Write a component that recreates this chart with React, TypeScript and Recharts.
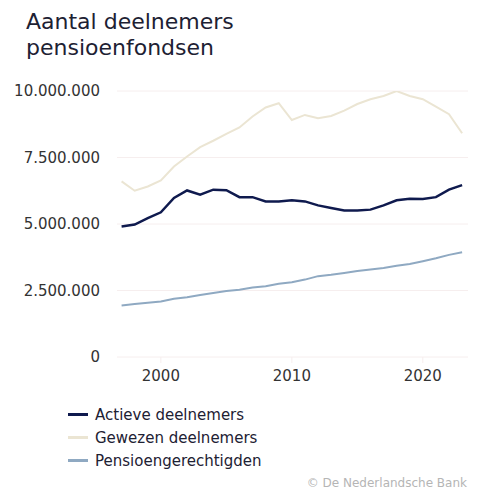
import { CartesianGrid, Line, LineChart, XAxis, YAxis } from 'recharts'

const YEARS = [
  1997, 1998, 1999, 2000, 2001, 2002, 2003, 2004, 2005, 2006, 2007, 2008, 2009,
  2010, 2011, 2012, 2013, 2014, 2015, 2016, 2017, 2018, 2019, 2020, 2021, 2022, 2023,
]

const ACTIEVE = [
  4.91, 4.98, 5.22, 5.44, 5.98, 6.26, 6.1, 6.29, 6.27, 6.01, 6.01, 5.85, 5.85,
  5.89, 5.85, 5.7, 5.6, 5.51, 5.51, 5.54, 5.7, 5.89, 5.95, 5.94, 6.01, 6.29, 6.46,
]

const GEWEZEN = [
  6.6, 6.25, 6.41, 6.64, 7.16, 7.54, 7.89, 8.13, 8.39, 8.63, 9.04, 9.38, 9.54,
  8.91, 9.1, 8.98, 9.06, 9.26, 9.51, 9.69, 9.81, 10.0, 9.81, 9.69, 9.41, 9.13, 8.41,
]

const PENSIOEN = [
  1.94, 1.99, 2.04, 2.09, 2.19, 2.25, 2.33, 2.41, 2.48, 2.53, 2.61, 2.66, 2.75,
  2.81, 2.91, 3.04, 3.09, 3.16, 3.23, 3.29, 3.35, 3.43, 3.5, 3.6, 3.71, 3.84, 3.94,
]

const X_TICKS = [2000, 2010, 2020]
const Y_TICKS = [0, 2500000, 5000000, 7500000, 10000000]

const SERIES = [
  { key: 'actieve', name: 'Actieve deelnemers', color: '#0f1a4e', width: 2.5 },
  { key: 'gewezen', name: 'Gewezen deelnemers', color: '#ebe5d3', width: 2 },
  { key: 'pensioen', name: 'Pensioengerechtigden', color: '#8fa9c2', width: 2 },
]

const data = YEARS.map((year, i) => ({
  year,
  actieve: ACTIEVE[i] * 1e6,
  gewezen: GEWEZEN[i] * 1e6,
  pensioen: PENSIOEN[i] * 1e6,
}))

const FONT = '"DejaVu Sans", Verdana, sans-serif'

const formatNumber = (v: number) =>
  String(Math.round(v)).replace(/\B(?=(\d{3})+(?!\d))/g, '.')

export default function App() {
  return (
    <div
      style={{
        position: 'absolute',
        left: 0,
        top: 0,
        width: 480,
        height: 494,
        background: '#fff',
        fontFamily: FONT,
      }}
    >
      <div
        style={{
          position: 'absolute',
          left: 26,
          top: 9,
          fontSize: 22,
          lineHeight: '26px',
          color: '#1d2133',
        }}
      >
        Aantal deelnemers
        <br />
        pensioenfondsen
      </div>

      <div style={{ position: 'absolute', left: 0, top: 0 }}>
        <LineChart
          width={480}
          height={400}
          data={data}
          margin={{ top: 91, right: 12, bottom: 0, left: 0 }}
        >
          <CartesianGrid vertical={false} stroke="#f6eeee" />
          <XAxis
            dataKey="year"
            type="number"
            domain={[1996.65, 2023.45]}
            ticks={X_TICKS}
            axisLine={false}
            tickLine={{ stroke: '#f6eeee' }}
            tickSize={6}
            tickMargin={7}
            height={43}
            tick={{ fill: '#333', fontSize: 15, fontFamily: FONT }}
          />
          <YAxis
            width={117}
            domain={[0, 10000000]}
            allowDataOverflow
            ticks={Y_TICKS}
            axisLine={false}
            tickLine={false}
            tickMargin={11}
            tickFormatter={formatNumber}
            tick={{ fill: '#333', fontSize: 15, fontFamily: FONT }}
          />
          {SERIES.map((s) => (
            <Line
              key={s.key}
              dataKey={s.key}
              name={s.name}
              stroke={s.color}
              strokeWidth={s.width}
              dot={false}
              isAnimationActive={false}
            />
          ))}
        </LineChart>
      </div>

      <div style={{ position: 'absolute', left: 68, top: 403 }}>
        {SERIES.map((s) => (
          <div
            key={s.key}
            style={{
              display: 'flex',
              alignItems: 'center',
              height: 23,
              fontSize: 15,
              color: '#1d2133',
            }}
          >
            <span
              style={{
                display: 'inline-block',
                width: 20,
                height: 3,
                background: s.color,
                marginRight: 7,
              }}
            />
            {s.name}
          </div>
        ))}
      </div>

      <div
        style={{
          position: 'absolute',
          right: 13,
          top: 476,
          fontSize: 12,
          color: '#b5b5b5',
        }}
      >
        © De Nederlandsche Bank
      </div>
    </div>
  )
}
